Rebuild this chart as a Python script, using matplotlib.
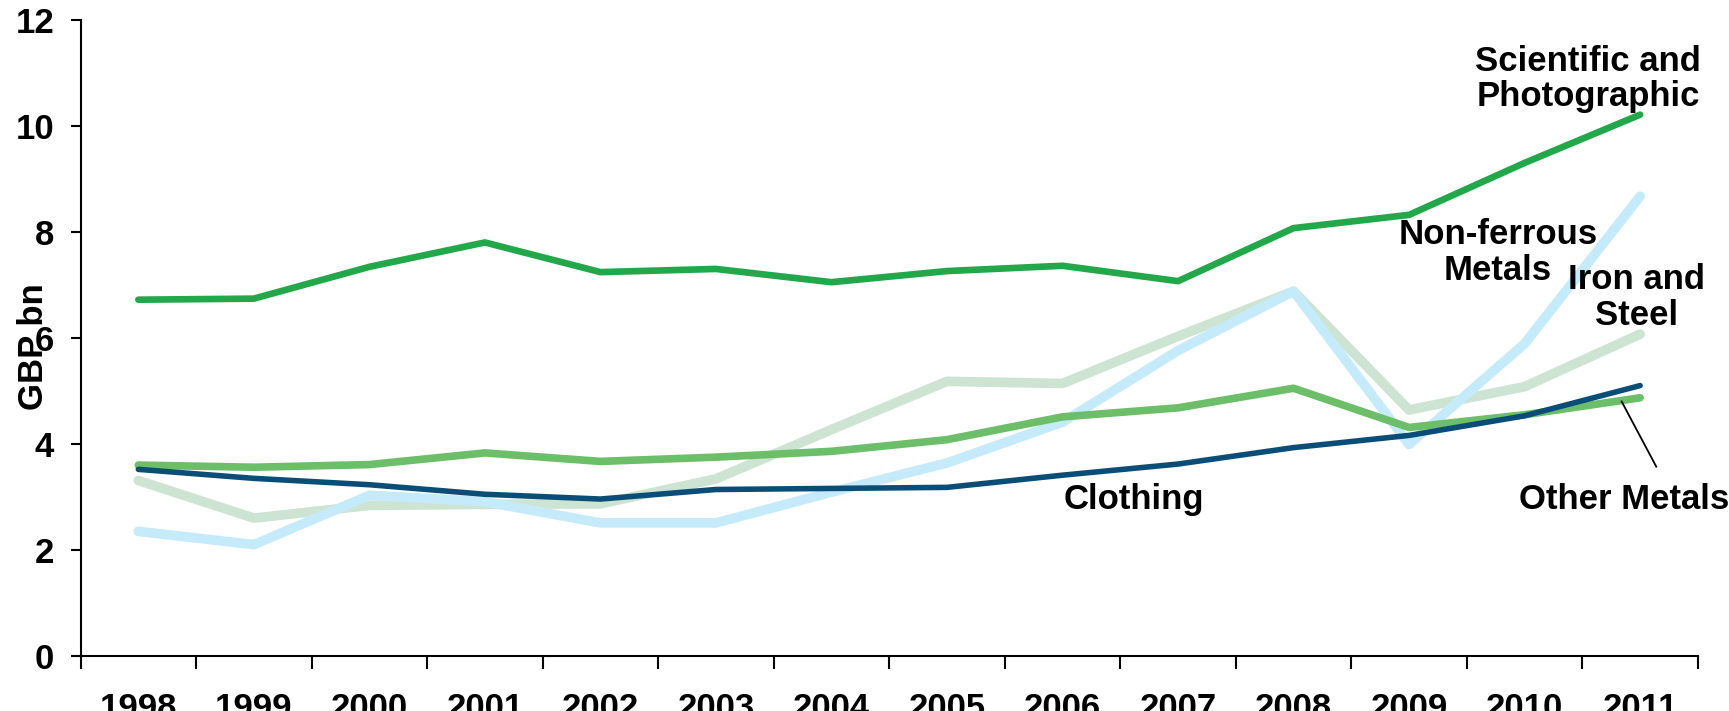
import numpy as np
import matplotlib
matplotlib.use('Agg')
import matplotlib.pyplot as plt

plt.rcParams['font.family'] = ['Liberation Sans', 'DejaVu Sans']
plt.rcParams['font.weight'] = 'bold'
plt.rcParams['axes.labelweight'] = 'bold'

years = ['1998', '1999', '2000', '2001', '2002', '2003', '2004',
         '2005', '2006', '2007', '2008', '2009', '2010', '2011']

# GBP bn
iron_steel = [3.31, 2.60, 2.84, 2.86, 2.87, 3.34, 4.27, 5.18, 5.14, 6.03, 6.88, 4.64, 5.08, 6.07]
non_ferrous = [2.35, 2.10, 3.03, 2.91, 2.51, 2.51, 3.09, 3.64, 4.41, 5.76, 6.88, 3.99, 5.89, 8.67]
other_metals = [3.60, 3.56, 3.61, 3.83, 3.67, 3.75, 3.86, 4.08, 4.51, 4.68, 5.05, 4.31, 4.55, 4.87]
clothing = [3.52, 3.35, 3.23, 3.05, 2.96, 3.14, 3.16, 3.18, 3.41, 3.62, 3.93, 4.16, 4.53, 5.10]
scientific = [6.72, 6.74, 7.34, 7.80, 7.24, 7.30, 7.05, 7.26, 7.36, 7.07, 8.07, 8.32, 9.30, 10.21]

x = np.arange(len(years))

fig = plt.figure(figsize=(17.29, 7.11), dpi=100)
ax = fig.add_axes([0.0466, 0.0774, 0.9354, 0.8948])

rnd = dict(solid_capstyle='round', solid_joinstyle='round')
ax.plot(x, iron_steel, color='#cde4d3', lw=7, **rnd)
ax.plot(x, non_ferrous, color='#c5ebfb', lw=7, **rnd)
ax.plot(x, other_metals, color='#6cbf68', lw=5.5, **rnd)
ax.plot(x, clothing, color='#0a4e78', lw=4, **rnd)
ax.plot(x, scientific, color='#22a84a', lw=4.8, **rnd)

ax.set_xlim(-0.5, 13.5)
ax.set_ylim(0, 12)
ax.set_yticks(range(0, 13, 2))
ax.tick_params(axis='y', labelsize=25, length=7, width=1.5, pad=12)

# ticks between categories, labels centred on categories
ax.set_xticks(np.arange(-0.5, 14, 1))
ax.set_xticklabels([])
ax.set_xticks(x, minor=True)
ax.set_xticklabels(years, minor=True)
ax.tick_params(axis='x', which='major', length=9, width=1.5, direction='out')
ax.tick_params(axis='x', which='minor', length=0, labelsize=25, pad=26)

for s in ['top', 'right']:
    ax.spines[s].set_visible(False)
for s in ['left', 'bottom']:
    ax.spines[s].set_linewidth(1.5)

ax.set_ylabel('GBP bn', fontsize=25)
ax.yaxis.set_label_coords(-0.019, 0.486)

lbl = dict(fontsize=25, ha='center', va='center', linespacing=1.1)
ax.text(12.55, 10.88, 'Scientific and\nPhotographic', **lbl)
ax.text(11.77, 7.61, 'Non-ferrous\nMetals', **lbl)
ax.text(12.97, 6.76, 'Iron and\nSteel', **lbl)
ax.text(8.62, 2.95, 'Clothing', **lbl)
ax.text(12.86, 2.95, 'Other Metals', **lbl)
ax.plot([12.84, 13.14], [4.8, 3.57], color='black', lw=1.3)

fig.savefig('out.png', dpi=100)
